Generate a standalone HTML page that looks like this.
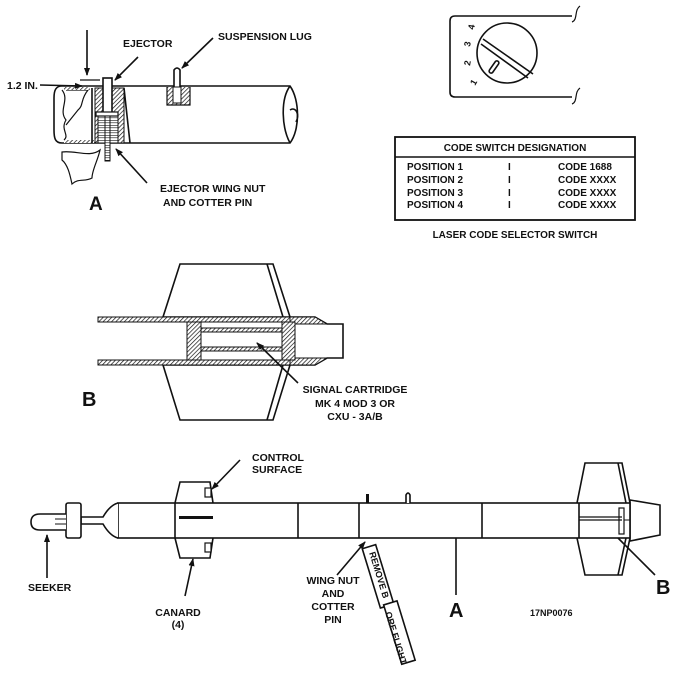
<!DOCTYPE html>
<html><head><style>
html,body{margin:0;padding:0;background:#fff;}
svg{display:block;}
text{font-family:"Liberation Sans",Arial,sans-serif;font-weight:bold;fill:#111;}
</style></head><body>
<svg width="687" height="688" viewBox="0 0 687 688" xmlns="http://www.w3.org/2000/svg">
<defs>
<pattern id="h" width="3" height="3" patternUnits="userSpaceOnUse" patternTransform="rotate(45)">
<rect width="3" height="3" fill="#fff"/><line x1="0" y1="0" x2="0" y2="3" stroke="#111" stroke-width="1.4"/>
</pattern>
<pattern id="hh" width="3" height="2.5" patternUnits="userSpaceOnUse">
<rect width="3" height="2.5" fill="#fff"/><line x1="0" y1="0" x2="3" y2="0" stroke="#111" stroke-width="1.2"/>
</pattern>
<marker id="ar" markerWidth="8" markerHeight="8" refX="7" refY="4" orient="auto" markerUnits="userSpaceOnUse">
<path d="M0,1 L8,4 L0,7 Z" fill="#111"/></marker>
</defs>
<g fill="none" stroke="#111" stroke-width="1.6">

<!-- PANEL A -->
<path d="M62,86 L290,86 C300,100 300,130 290,143 L62,143 C55,143 54,138 54,130 L54,98 C54,90 56,86 62,86 Z" fill="#fff"/>
<path d="M290,86 C280,100 282,128 290,143" />
<path d="M290,110 C296,106 300,115 296,122" />
<path d="M62,90 C70,100 58,110 66,120 C60,130 70,135 64,140" stroke-width="1.2"/>
<path d="M66,90 L88,90 C80,100 84,105 78,110 L66,125" stroke-width="1.2"/>
<rect x="64" y="87" width="26" height="3" fill="url(#h)" stroke="none"/>
<rect x="64" y="140" width="30" height="3" fill="url(#h)" stroke="none"/>
<line x1="92" y1="88" x2="92" y2="143"/>
<rect x="95" y="88" width="8" height="55" fill="url(#h)" stroke-width="1"/>
<rect x="112" y="88" width="12" height="55" fill="url(#h)" stroke-width="1"/>
<rect x="98" y="115" width="20" height="28" fill="url(#hh)" stroke-width="1"/>
<rect x="103" y="78" width="9" height="35" fill="#fff"/>
<rect x="96" y="112" width="22" height="4" fill="#fff" stroke-width="1.2"/>
<rect x="105" y="116" width="5" height="45" fill="url(#hh)" stroke-width="1"/>
<line x1="124" y1="88" x2="130" y2="143"/>
<path d="M174,87 L174,70 Q177,66 180,70 L180,87" fill="#fff"/>
<path d="M167,87 L167,105 L190,105 L190,87" fill="url(#h)" stroke-width="1.2"/>
<rect x="173" y="87" width="8" height="16" fill="#fff" stroke-width="1"/>
<path d="M62,152 C75,150 90,158 100,150 C98,160 92,170 92,178 C85,182 78,178 72,184 C70,175 68,165 62,160 Z" fill="#fff" stroke-width="1.2"/>
<line x1="87" y1="30" x2="87" y2="75" marker-end="url(#ar)"/>
<line x1="80" y1="80" x2="100" y2="80" stroke-width="1.2"/>
<line x1="40" y1="85" x2="82" y2="86" marker-end="url(#ar)"/>
<line x1="138" y1="57" x2="115" y2="80" marker-end="url(#ar)"/>
<line x1="213" y1="38" x2="182" y2="68" marker-end="url(#ar)"/>
<line x1="147" y1="183" x2="116" y2="149" marker-end="url(#ar)"/>

<!-- SWITCH -->
<path d="M572,16 L455,16 Q450,16 450,21 L450,92 Q450,97 455,97 L572,97"/>
<path d="M572,22 C578,20 574,10 580,6" stroke-width="1.2"/>
<path d="M572,104 C578,102 574,92 580,88" stroke-width="1.2"/>
<circle cx="507" cy="53" r="30"/>
<line x1="483" y1="39" x2="533" y2="74"/>
<line x1="481" y1="44" x2="528" y2="78"/>
<rect x="487" y="65" width="14" height="4" rx="2" transform="rotate(-55 494 67)"/>
<rect x="395" y="137" width="240" height="83" stroke-width="1.8"/>
<line x1="395" y1="157" x2="635" y2="157"/>

<!-- PANEL B -->
<path d="M180,264 L273,264 L290,317 L163,317 Z" fill="#fff"/>
<line x1="267" y1="264" x2="283" y2="317"/>
<path d="M163,365 L290,365 L273,420 L180,420 Z" fill="#fff"/>
<line x1="283" y1="365" x2="267" y2="420"/>
<rect x="98" y="317" width="192" height="48" fill="#fff" stroke="none"/>
<rect x="98" y="317" width="192" height="5" fill="url(#h)" stroke-width="1"/>
<rect x="98" y="360" width="192" height="5" fill="url(#h)" stroke-width="1"/>
<path d="M290,317 L315,317 L327,324 L343,324 L343,358 L327,358 L315,365 L290,365" fill="#fff"/>
<path d="M290,317 L315,317 L327,324 L295,324 L295,358 L327,358 L315,365 L290,365 Z" fill="url(#h)" stroke-width="1"/>
<rect x="187" y="322" width="14" height="38" fill="url(#h)" stroke-width="1"/>
<rect x="282" y="322" width="13" height="38" fill="url(#h)" stroke-width="1"/>
<rect x="201" y="328" width="81" height="4" fill="url(#h)" stroke-width="1"/>
<rect x="201" y="347" width="81" height="4" fill="url(#h)" stroke-width="1"/>
<rect x="201" y="332" width="81" height="15" fill="#fff" stroke-width="1"/>
<line x1="298" y1="383" x2="257" y2="343" marker-end="url(#ar)"/>

<!-- MISSILE -->
<path d="M585,463 L622,463 L630,503 L630,538 L622,575 L585,575 L577,538 L577,503 Z" fill="#fff"/>
<line x1="618" y1="463" x2="626" y2="503"/><line x1="626" y1="538" x2="618" y2="575"/>
<path d="M630,500 L660,505 L660,535 L630,541 Z" fill="#fff"/>
<path d="M175,503 L180,482 L210,482 L213,503" fill="#fff"/>
<path d="M175,538 L180,558 L210,558 L213,538" fill="#fff"/>
<rect x="205" y="488" width="6" height="9" fill="#fff" stroke-width="1.2"/>
<rect x="205" y="543" width="6" height="9" fill="#fff" stroke-width="1.2"/>
<rect x="118" y="503" width="512" height="35" fill="#fff"/>
<line x1="175" y1="503" x2="175" y2="538"/>
<line x1="298" y1="503" x2="298" y2="538"/>
<line x1="359" y1="503" x2="359" y2="538"/>
<line x1="482" y1="503" x2="482" y2="538"/>
<line x1="579" y1="503" x2="579" y2="538"/>
<rect x="179" y="516" width="34" height="3" fill="#111" stroke="none"/>
<line x1="579" y1="517" x2="622" y2="517" stroke-width="1.2"/><line x1="579" y1="520" x2="622" y2="520" stroke-width="1.2"/>
<rect x="619" y="508" width="5" height="26" stroke-width="1.2"/>
<line x1="624" y1="520" x2="630" y2="520" stroke-width="1"/>
<rect x="366" y="494" width="3" height="9" fill="#111" stroke="none"/>
<path d="M406,503 L406,495 Q408,491 410,495 L410,503" fill="#fff"/>
<path d="M118,503 Q110,505 103,517 L81,517 L81,524 L103,524 Q110,536 118,538" fill="#fff"/>
<rect x="66" y="503" width="15" height="35" rx="2" fill="#fff"/>
<path d="M66,514 L40,514 Q31,514 31,522 Q31,530 40,530 L66,530" fill="#fff"/>
<line x1="55" y1="519" x2="66" y2="519" stroke-width="1"/><line x1="55" y1="524" x2="66" y2="524" stroke-width="1"/>
<g transform="rotate(-17 368 547)">
<rect x="362" y="547" width="14" height="62" fill="#fff"/>
<rect x="366" y="607" width="14" height="62" fill="#fff"/>
</g>
<line x1="47" y1="578" x2="47" y2="535" marker-end="url(#ar)"/>
<line x1="240" y1="460" x2="212" y2="489" marker-end="url(#ar)"/>
<line x1="185" y1="596" x2="193" y2="559" marker-end="url(#ar)"/>
<line x1="337" y1="575" x2="365" y2="542" marker-end="url(#ar)"/>
<line x1="456" y1="538" x2="456" y2="595"/>
<line x1="655" y1="575" x2="618" y2="538"/>
</g>

<g font-size="10.5">
<text x="123" y="47">EJECTOR</text>
<text x="218" y="40">SUSPENSION LUG</text>
<text x="7" y="89">1.2 IN.</text>
<text x="160" y="192">EJECTOR WING NUT</text>
<text x="163" y="206">AND COTTER PIN</text>
<text x="89" y="210" font-size="19">A</text>

<g font-size="9">
<text x="474" y="30" transform="rotate(-80 474 30)">4</text>
<text x="470" y="47" transform="rotate(-80 470 47)">3</text>
<text x="470" y="66" transform="rotate(-80 470 66)">2</text>
<text x="475" y="86" transform="rotate(-60 475 86)">1</text>
</g>
<g font-size="10" font-weight="normal">
<text x="515" y="151" text-anchor="middle">CODE SWITCH DESIGNATION</text>
<text x="407" y="170">POSITION 1</text><text x="508" y="170">I</text><text x="558" y="170">CODE 1688</text>
<text x="407" y="183">POSITION 2</text><text x="508" y="183">I</text><text x="558" y="183">CODE XXXX</text>
<text x="407" y="196">POSITION 3</text><text x="508" y="196">I</text><text x="558" y="196">CODE XXXX</text>
<text x="407" y="208">POSITION 4</text><text x="508" y="208">I</text><text x="558" y="208">CODE XXXX</text>
<text x="515" y="238" text-anchor="middle">LASER CODE SELECTOR SWITCH</text>
</g>

<text x="82" y="406" font-size="20">B</text>
<text x="355" y="393" text-anchor="middle">SIGNAL CARTRIDGE</text>
<text x="355" y="407" text-anchor="middle">MK 4 MOD 3 OR</text>
<text x="355" y="420" text-anchor="middle">CXU - 3A/B</text>

<text x="252" y="461">CONTROL</text>
<text x="252" y="473">SURFACE</text>
<text x="28" y="591">SEEKER</text>
<text x="178" y="616" text-anchor="middle">CANARD</text>
<text x="178" y="628" text-anchor="middle">(4)</text>
<text x="333" y="584" text-anchor="middle">WING NUT</text>
<text x="333" y="597" text-anchor="middle">AND</text>
<text x="333" y="610" text-anchor="middle">COTTER</text>
<text x="333" y="623" text-anchor="middle">PIN</text>
<text x="449" y="617" font-size="20">A</text>
<text x="656" y="594" font-size="20">B</text>
<text x="530" y="616" font-size="9" font-weight="normal">17NP0076</text>
<g font-size="9" transform="rotate(73 372 552)">
<text x="372" y="555">REMOVE B</text>
</g>
<g font-size="9" transform="rotate(73 388 612)">
<text x="388" y="615">ORE FLIGHT</text>
</g>
</g>
</svg>
</body></html>
